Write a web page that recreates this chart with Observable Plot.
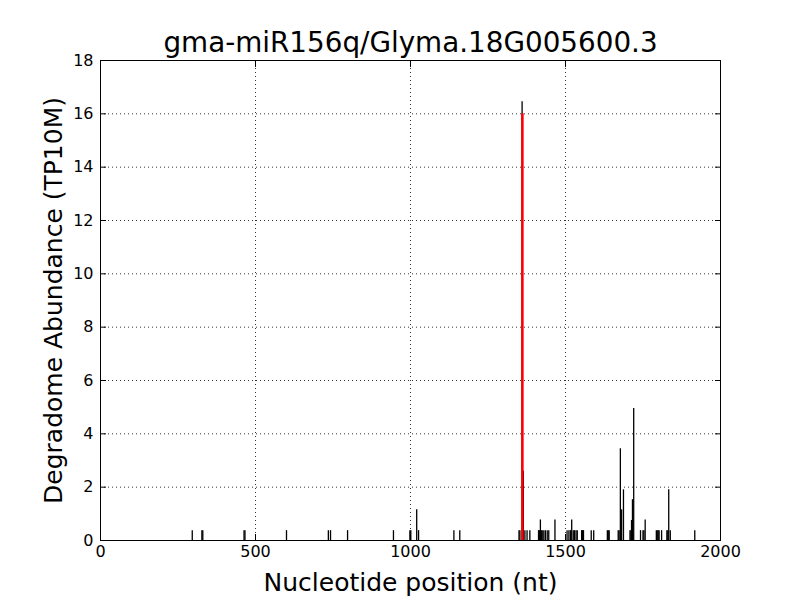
<!DOCTYPE html>
<html>
<head>
<meta charset="utf-8">
<script src="https://cdn.jsdelivr.net/npm/d3@7"></script>
<script src="https://cdn.jsdelivr.net/npm/@observablehq/plot@0.6"></script>
<style>
  html, body { margin: 0; padding: 0; background: #fff; }
  svg { display: block; }
</style>
</head>
<body>
<div id="chart"></div>
<script>
const titleText = "gma-miR156q/Glyma.18G005600.3";
const xLabel = "Nucleotide position (nt)";
const yLabel = "Degradome Abundance (TP10M)";
const xTicks = [0, 500, 1000, 1500, 2000];
const yTicks = [0, 2, 4, 6, 8, 10, 12, 14, 16, 18];

// degradome read positions (nt) and abundances (TP10M)
const positions = [296, 327, 330, 463, 466, 600, 735, 742, 797, 945, 998, 1001, 1020, 1026, 1140, 1159,
  1350, 1353, 1360, 1364, 1369, 1376, 1385, 1413, 1416, 1419, 1422, 1425, 1430, 1435, 1441, 1446, 1466,
  1505, 1511, 1516, 1520, 1525, 1529, 1534, 1538, 1552, 1555, 1558, 1583, 1591, 1635, 1638, 1641,
  1670, 1673, 1677, 1681, 1687, 1708, 1711, 1713, 1716, 1720, 1742, 1750, 1753, 1757,
  1793, 1796, 1799, 1802, 1810, 1827, 1830, 1833, 1838, 1917];
const abundances = [0.37, 0.37, 0.37, 0.37, 0.37, 0.37, 0.37, 0.37, 0.37, 0.37, 0.37, 0.37, 1.15, 0.37, 0.37, 0.37,
  0.37, 0.37, 16.45, 2.6, 0.37, 0.37, 0.37, 0.37, 0.37, 0.77, 0.37, 0.37, 0.37, 0.37, 0.37, 0.37, 0.77,
  0.37, 0.37, 0.37, 0.77, 0.37, 0.37, 0.37, 0.37, 0.37, 0.37, 0.37, 0.37, 0.37, 0.37, 0.37, 0.37,
  0.37, 0.37, 3.44, 1.15, 1.9, 0.37, 0.37, 0.75, 1.53, 4.95, 0.37, 0.37, 0.37, 0.77,
  0.37, 0.37, 0.37, 0.37, 0.37, 0.37, 0.37, 1.9, 0.37, 0.37];

// predicted cleavage site
const cleavagePos = [1361];
const cleavageVal = [16.0];

const reads = positions.map((p, i) => ({pos: p, val: abundances[i]}));
const cleave = cleavagePos.map((p, i) => ({pos: p, val: cleavageVal[i]}));

const font = "DejaVu Sans, sans-serif";
const grid = {stroke: "#000", strokeOpacity: 1, strokeWidth: 0.8, strokeDasharray: "1,3"};

const chart = Plot.plot({
  width: 800,
  height: 600,
  marginLeft: 100,
  marginRight: 80,
  marginTop: 60,
  marginBottom: 60,
  style: {fontFamily: font, background: "#fff", color: "#000"},
  x: {domain: [0, 2000]},
  y: {domain: [0, 18]},
  marks: [
    Plot.gridX(xTicks, grid),
    Plot.gridY(yTicks, grid),
    Plot.ruleX(reads, {x: "pos", y1: 0, y2: "val", stroke: "#000", strokeWidth: 1.3}),
    Plot.ruleX(cleave, {x: "pos", y1: 0, y2: "val", stroke: "#ff0000", strokeWidth: 2.5}),
    Plot.frame({stroke: "#000", strokeWidth: 1}),
    Plot.axisX(xTicks, {anchor: "bottom", tickSize: -6, text: null, label: null, stroke: "#000"}),
    Plot.axisX(xTicks, {anchor: "top", tickSize: -6, text: null, label: null, stroke: "#000"}),
    Plot.axisY(yTicks, {anchor: "left", tickSize: -6, text: null, label: null, stroke: "#000"}),
    Plot.axisY(yTicks, {anchor: "right", tickSize: -6, text: null, label: null, stroke: "#000"}),
    Plot.axisX(xTicks, {anchor: "bottom", tickSize: 0, tickPadding: 5, tickFormat: d3.format("d"), label: null, fontSize: 16, fill: "#000"}),
    Plot.axisY(yTicks, {anchor: "left", tickSize: 0, tickPadding: 7, tickFormat: d3.format("d"), label: null, fontSize: 16, fill: "#000"}),
    Plot.text([titleText], {text: d => d, frameAnchor: "top", lineAnchor: "middle", dy: -17, fontSize: 27.8, fill: "#000"}),
    Plot.text([xLabel], {text: d => d, frameAnchor: "bottom", lineAnchor: "middle", dy: 42, fontSize: 25, fill: "#000"}),
    Plot.text([yLabel], {text: d => d, frameAnchor: "left", textAnchor: "middle", lineAnchor: "middle", rotate: -90, dx: -47, fontSize: 25, fill: "#000"})
  ]
});
document.getElementById("chart").appendChild(chart);
</script>
</body>
</html>
